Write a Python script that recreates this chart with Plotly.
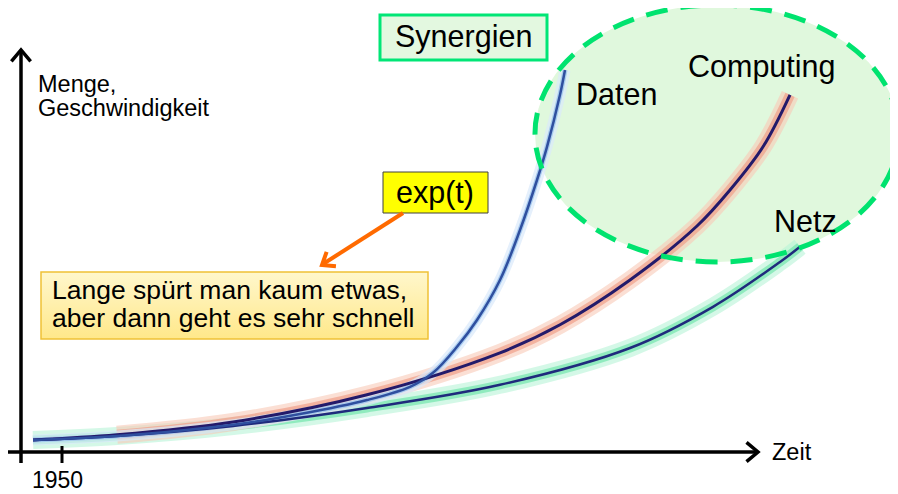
import math
import plotly.graph_objects as go

# curves (t = year, v = amount)
daten_t = [1947.1, 1955.5, 1967.1, 1973.8, 1980.5, 1984.8, 1987.1, 1989.5, 1991.5, 1993.8, 1995.8, 1997.5, 1998.5, 1999.8, 2000.3]
daten_v = [3.0, 4.0, 6.8, 9.5, 13.0, 16.3, 19.8, 26.3, 33.0, 43.0, 55.5, 68.0, 76.3, 89.3, 95.5]

computing_t = [1947.1, 1955.5, 1967.1, 1980.5, 1993.8, 1999.8, 2006.8, 2013.5, 2016.8, 2020.1, 2022.8]
computing_v = [3.0, 4.3, 7.5, 14.3, 24.8, 31.8, 43.0, 56.5, 65.5, 76.3, 89.3]

netz_t = [1947.1, 1955.5, 1967.1, 1980.5, 1993.8, 2006.8, 2015.1, 2021.8, 2023.8]
netz_v = [3.0, 4.0, 6.5, 11.0, 16.8, 26.0, 36.3, 47.5, 51.3]

tick_years = [1950]
tick_labels = ["1950"]

FONT = "Liberation Sans, Arial, sans-serif"


# page pixel -> data coordinates
def X(px):
    return 1950 + (px - 62) / 10


def Y(py):
    return (452 - py) / 4


fig = go.Figure()


def line(t, v, color, width, opacity=1.0):
    fig.add_trace(go.Scatter(
        x=t, y=v, mode="lines", opacity=opacity,
        line=dict(color=color, width=width, shape="spline", smoothing=1.0),
        hoverinfo="skip", showlegend=False,
    ))


# glows first
line(netz_t, netz_v, "#b8f5d8", 18, 0.6)
line(netz_t, netz_v, "#74e6ae", 9, 0.7)
line(computing_t[1:], computing_v[1:], "#f9cbb8", 18, 0.6)
line(computing_t[1:], computing_v[1:], "#f0a08a", 10, 0.7)
line(daten_t, daten_v, "#dbeafb", 11, 0.7)
line(daten_t, daten_v, "#9cc4ee", 5, 0.8)
# core lines
line(netz_t, netz_v, "#1f2a7c", 2.5)
line(computing_t, computing_v, "#231a6a", 3)
line(daten_t, daten_v, "#2f4f9f", 2.5)

# note box with a soft yellow gradient
bx0, bx1, by0, by1 = X(41), X(428), Y(339), Y(272)
fig.add_trace(go.Scatter(
    x=[bx0, bx1, bx1, bx0, bx0], y=[by0, by0, by1, by1, by0],
    mode="lines", fill="toself", line=dict(width=0),
    fillgradient=dict(type="vertical", colorscale=[[0, "#ffe88a"], [1, "#fff7cc"]]),
    hoverinfo="skip", showlegend=False,
))


def chevron(tip, back, length=15, angle=40):
    # open arrow head at tip, pointing away from back (pixels)
    dx, dy = back[0] - tip[0], back[1] - tip[1]
    n = math.hypot(dx, dy)
    dx, dy = dx / n, dy / n
    pts = []
    for s in (1, -1):
        a = math.radians(angle * s)
        pts.append((tip[0] + length * (dx * math.cos(a) - dy * math.sin(a)),
                    tip[1] + length * (dx * math.sin(a) + dy * math.cos(a))))
    return "M {},{} L {},{} L {},{}".format(
        X(pts[0][0]), Y(pts[0][1]), X(tip[0]), Y(tip[1]), X(pts[1][0]), Y(pts[1][1]))


shapes = [
    # green area
    dict(type="circle", x0=X(535), x1=X(899), y0=Y(262), y1=Y(5),
         fillcolor="#e0f8dd", line=dict(width=0), layer="below"),
    dict(type="circle", x0=X(535), x1=X(899), y0=Y(262), y1=Y(5),
         fillcolor="rgba(0,0,0,0)", line=dict(color="#00e36f", width=5, dash="22px,13px"), layer="above"),
    # boxes
    dict(type="rect", x0=X(380), x1=X(547), y0=Y(60), y1=Y(15),
         fillcolor="#e3f8e0", line=dict(color="#00e676", width=3)),
    dict(type="rect", x0=X(383), x1=X(488), y0=Y(213), y1=Y(172),
         fillcolor="#ffff00", line=dict(color="#404040", width=1)),
    dict(type="rect", x0=bx0, x1=bx1, y0=by0, y1=by1,
         fillcolor="rgba(0,0,0,0)", line=dict(color="#efc136", width=1.5)),
    # axes
    dict(type="line", x0=X(7), x1=X(756), y0=Y(452), y1=Y(452), line=dict(color="black", width=3.5)),
    dict(type="line", x0=X(21), x1=X(21), y0=Y(463), y1=Y(52), line=dict(color="black", width=3.5)),
    dict(type="path", path=chevron((758, 452), (700, 452)), line=dict(color="black", width=3.5)),
    dict(type="path", path=chevron((21, 50), (21, 120)), line=dict(color="black", width=3.5)),
    # orange pointer
    dict(type="line", x0=X(403), x1=X(323), y0=Y(213), y1=Y(264), line=dict(color="#ff6a00", width=4)),
    dict(type="path", path=chevron((322, 265), (403, 213), 14, 38), line=dict(color="#ff6a00", width=4)),
]
for yr in tick_years:
    shapes.append(dict(type="line", x0=yr, x1=yr, y0=Y(446), y1=Y(463), line=dict(color="black", width=3)))


def label(text, px, py, size, anchor="left"):
    fig.add_annotation(x=X(px), y=Y(py), text=text, showarrow=False,
                       xanchor=anchor, yanchor="middle",
                       font=dict(family=FONT, size=size, color="black"))


label("Menge,", 36, 84, 23.5)
label("Geschwindigkeit", 36, 108, 23.5)
label("Synergien", 463, 36, 30.5, "center")
label("exp(t)", 435, 192, 30.5, "center")
label("Lange spürt man kaum etwas,", 50, 290, 26.5)
label("aber dann geht es sehr schnell", 50, 318, 26.5)
label("Daten", 574, 94, 30.5)
label("Computing", 686, 66, 30.5)
label("Netz", 772, 221, 30.5)
label("Zeit", 770, 452, 23.5)
for yr, txt in zip(tick_years, tick_labels):
    fig.add_annotation(x=yr - 0.45, y=Y(480), text=txt, showarrow=False,
                       xanchor="center", yanchor="middle",
                       font=dict(family=FONT, size=23, color="black"))

# the page body keeps an 8px margin, so the visible window starts 8px into the figure
fig.update_layout(
    width=898, height=494,
    margin=dict(l=0, r=0, t=0, b=0),
    paper_bgcolor="white", plot_bgcolor="white",
    shapes=shapes,
    xaxis=dict(visible=False, range=[X(8), X(906)], fixedrange=True),
    yaxis=dict(visible=False, range=[Y(502), Y(8)], fixedrange=True),
    showlegend=False,
)

fig.write_html("out.html")
